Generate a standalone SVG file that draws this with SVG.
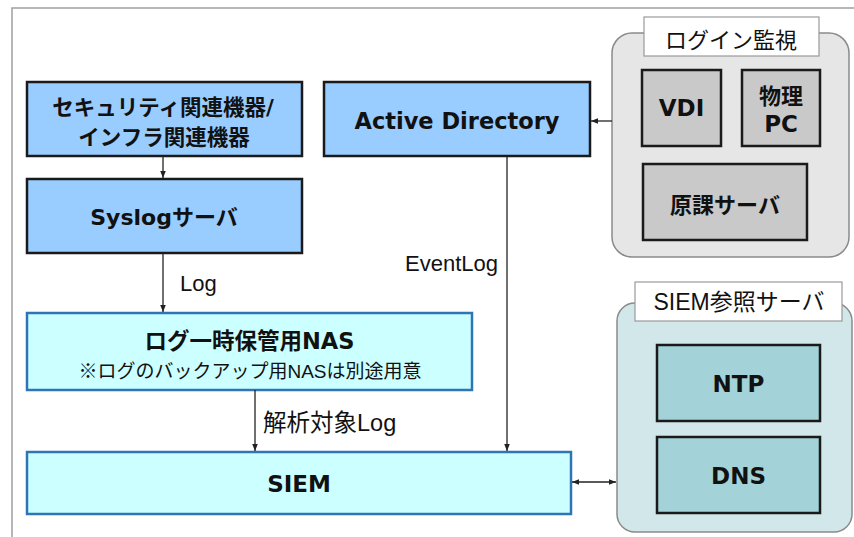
<svg xmlns="http://www.w3.org/2000/svg" width="854" height="537" viewBox="0 0 854 537">
<defs>
<style>
.b{font-family:"DejaVu Sans","Noto Sans CJK JP",sans-serif;font-weight:bold;fill:#111;text-anchor:middle;dominant-baseline:central}
.jb{font-family:"Noto Sans CJK JP",sans-serif;font-weight:bold;fill:#111;text-anchor:middle;dominant-baseline:central}
.r{font-family:"Liberation Sans","Noto Sans CJK JP",sans-serif;fill:#111;dominant-baseline:central}
.blue{fill:#99CCFF;stroke:#1a1a1a;stroke-width:2.5}
.cyan{fill:#CCFFFF;stroke:#2E75B6;stroke-width:2.5}
.gray{fill:#C9C9C9;stroke:#1a1a1a;stroke-width:2.5}
.teal{fill:#A3D3D8;stroke:#1a1a1a;stroke-width:2.5}
.lbl{fill:#fff;stroke:#9a9a9a;stroke-width:1.2}
.c{stroke:#222;stroke-width:1.3;fill:none}
</style>
<marker id="ah" viewBox="0 0 10 10" refX="10" refY="5" markerWidth="7" markerHeight="7" orient="auto-start-reverse" markerUnits="userSpaceOnUse">
<path d="M0,1 L10,5 L0,9 Z" fill="#222"/>
</marker>
</defs>
<rect width="854" height="537" fill="#fff"/>
<path d="M12,537 V8 H854" fill="none" stroke="#a0a0a0" stroke-width="1.5"/>

<g id="login-group">
<rect x="612" y="33" width="237" height="224" rx="20" fill="#E6E6E6" stroke="#8a8a8a" stroke-width="1.5"/>
<rect class="lbl" x="644" y="17" width="175" height="39"/>
<text class="r" x="731" y="40" font-size="22" text-anchor="middle">ログイン監視</text>
</g>
<g id="vdi">
<rect class="gray" x="642" y="70" width="79" height="76"/>
<text class="b" x="681.5" y="108" font-size="23">VDI</text>
</g>
<g id="pc">
<rect class="gray" x="742" y="70" width="78" height="76"/>
<text class="jb" x="781" y="94" font-size="22">物理</text>
<text class="b" x="781" y="124" font-size="23">PC</text>
</g>
<g id="genka">
<rect class="gray" x="643" y="164" width="164" height="76"/>
<text class="jb" x="725" y="203" font-size="22">原課サーバ</text>
</g>

<g id="siem-ref-group">
<rect x="617" y="303" width="235" height="229" rx="18" fill="#D1E7EA" stroke="#8a8a8a" stroke-width="1.5"/>
<rect class="lbl" x="635" y="282" width="207" height="39"/>
<text class="r" x="739" y="302" font-size="23" text-anchor="middle">SIEM参照サーバ</text>
</g>
<g id="ntp">
<rect class="teal" x="657" y="345" width="163" height="76"/>
<text class="b" x="738.5" y="384" font-size="23">NTP</text>
</g>
<g id="dns">
<rect class="teal" x="657" y="437" width="163" height="76"/>
<text class="b" x="738.5" y="476" font-size="23">DNS</text>
</g>

<g id="security">
<rect class="blue" x="27" y="82" width="275" height="74"/>
<text class="b" x="163" y="107" font-size="21.5">セキュリティ関連機器/</text>
<text class="b" x="164" y="137" font-size="21.5">インフラ関連機器</text>
</g>
<g id="syslog">
<rect class="blue" x="27" y="179" width="275" height="74"/>
<text class="b" x="164" y="217" font-size="22">Syslogサーバ</text>
</g>
<g id="ad">
<rect class="blue" x="324" y="82" width="266" height="74"/>
<text class="b" x="457" y="121" font-size="22.5">Active Directory</text>
</g>
<g id="nas">
<rect class="cyan" x="27" y="313" width="445" height="77"/>
<text class="b" x="249.5" y="341" font-size="22.5">ログ一時保管用NAS</text>
<text class="r" x="250" y="371" font-size="19" text-anchor="middle">※ログのバックアップ用NASは別途用意</text>
</g>
<g id="siem">
<rect class="cyan" x="27" y="452" width="544" height="62"/>
<text class="b" x="299" y="484" font-size="23">SIEM</text>
</g>

<g id="connectors">
<line class="c" x1="163" y1="156" x2="163" y2="178" marker-end="url(#ah)"/>
<line class="c" x1="163" y1="253" x2="163" y2="312" marker-end="url(#ah)"/>
<line class="c" x1="255" y1="390" x2="255" y2="451" marker-end="url(#ah)"/>
<line class="c" x1="507" y1="157" x2="507" y2="451" marker-end="url(#ah)"/>
<line class="c" x1="612" y1="121" x2="591" y2="121" marker-end="url(#ah)"/>
<line class="c" x1="572" y1="482" x2="616" y2="482" marker-start="url(#ah)" marker-end="url(#ah)"/>
<text class="r" x="180" y="283" font-size="22">Log</text>
<text class="r" x="498" y="263" font-size="22" text-anchor="end">EventLog</text>
<text class="r" x="263" y="423" font-size="23.5">解析対象Log</text>
</g>
</svg>
